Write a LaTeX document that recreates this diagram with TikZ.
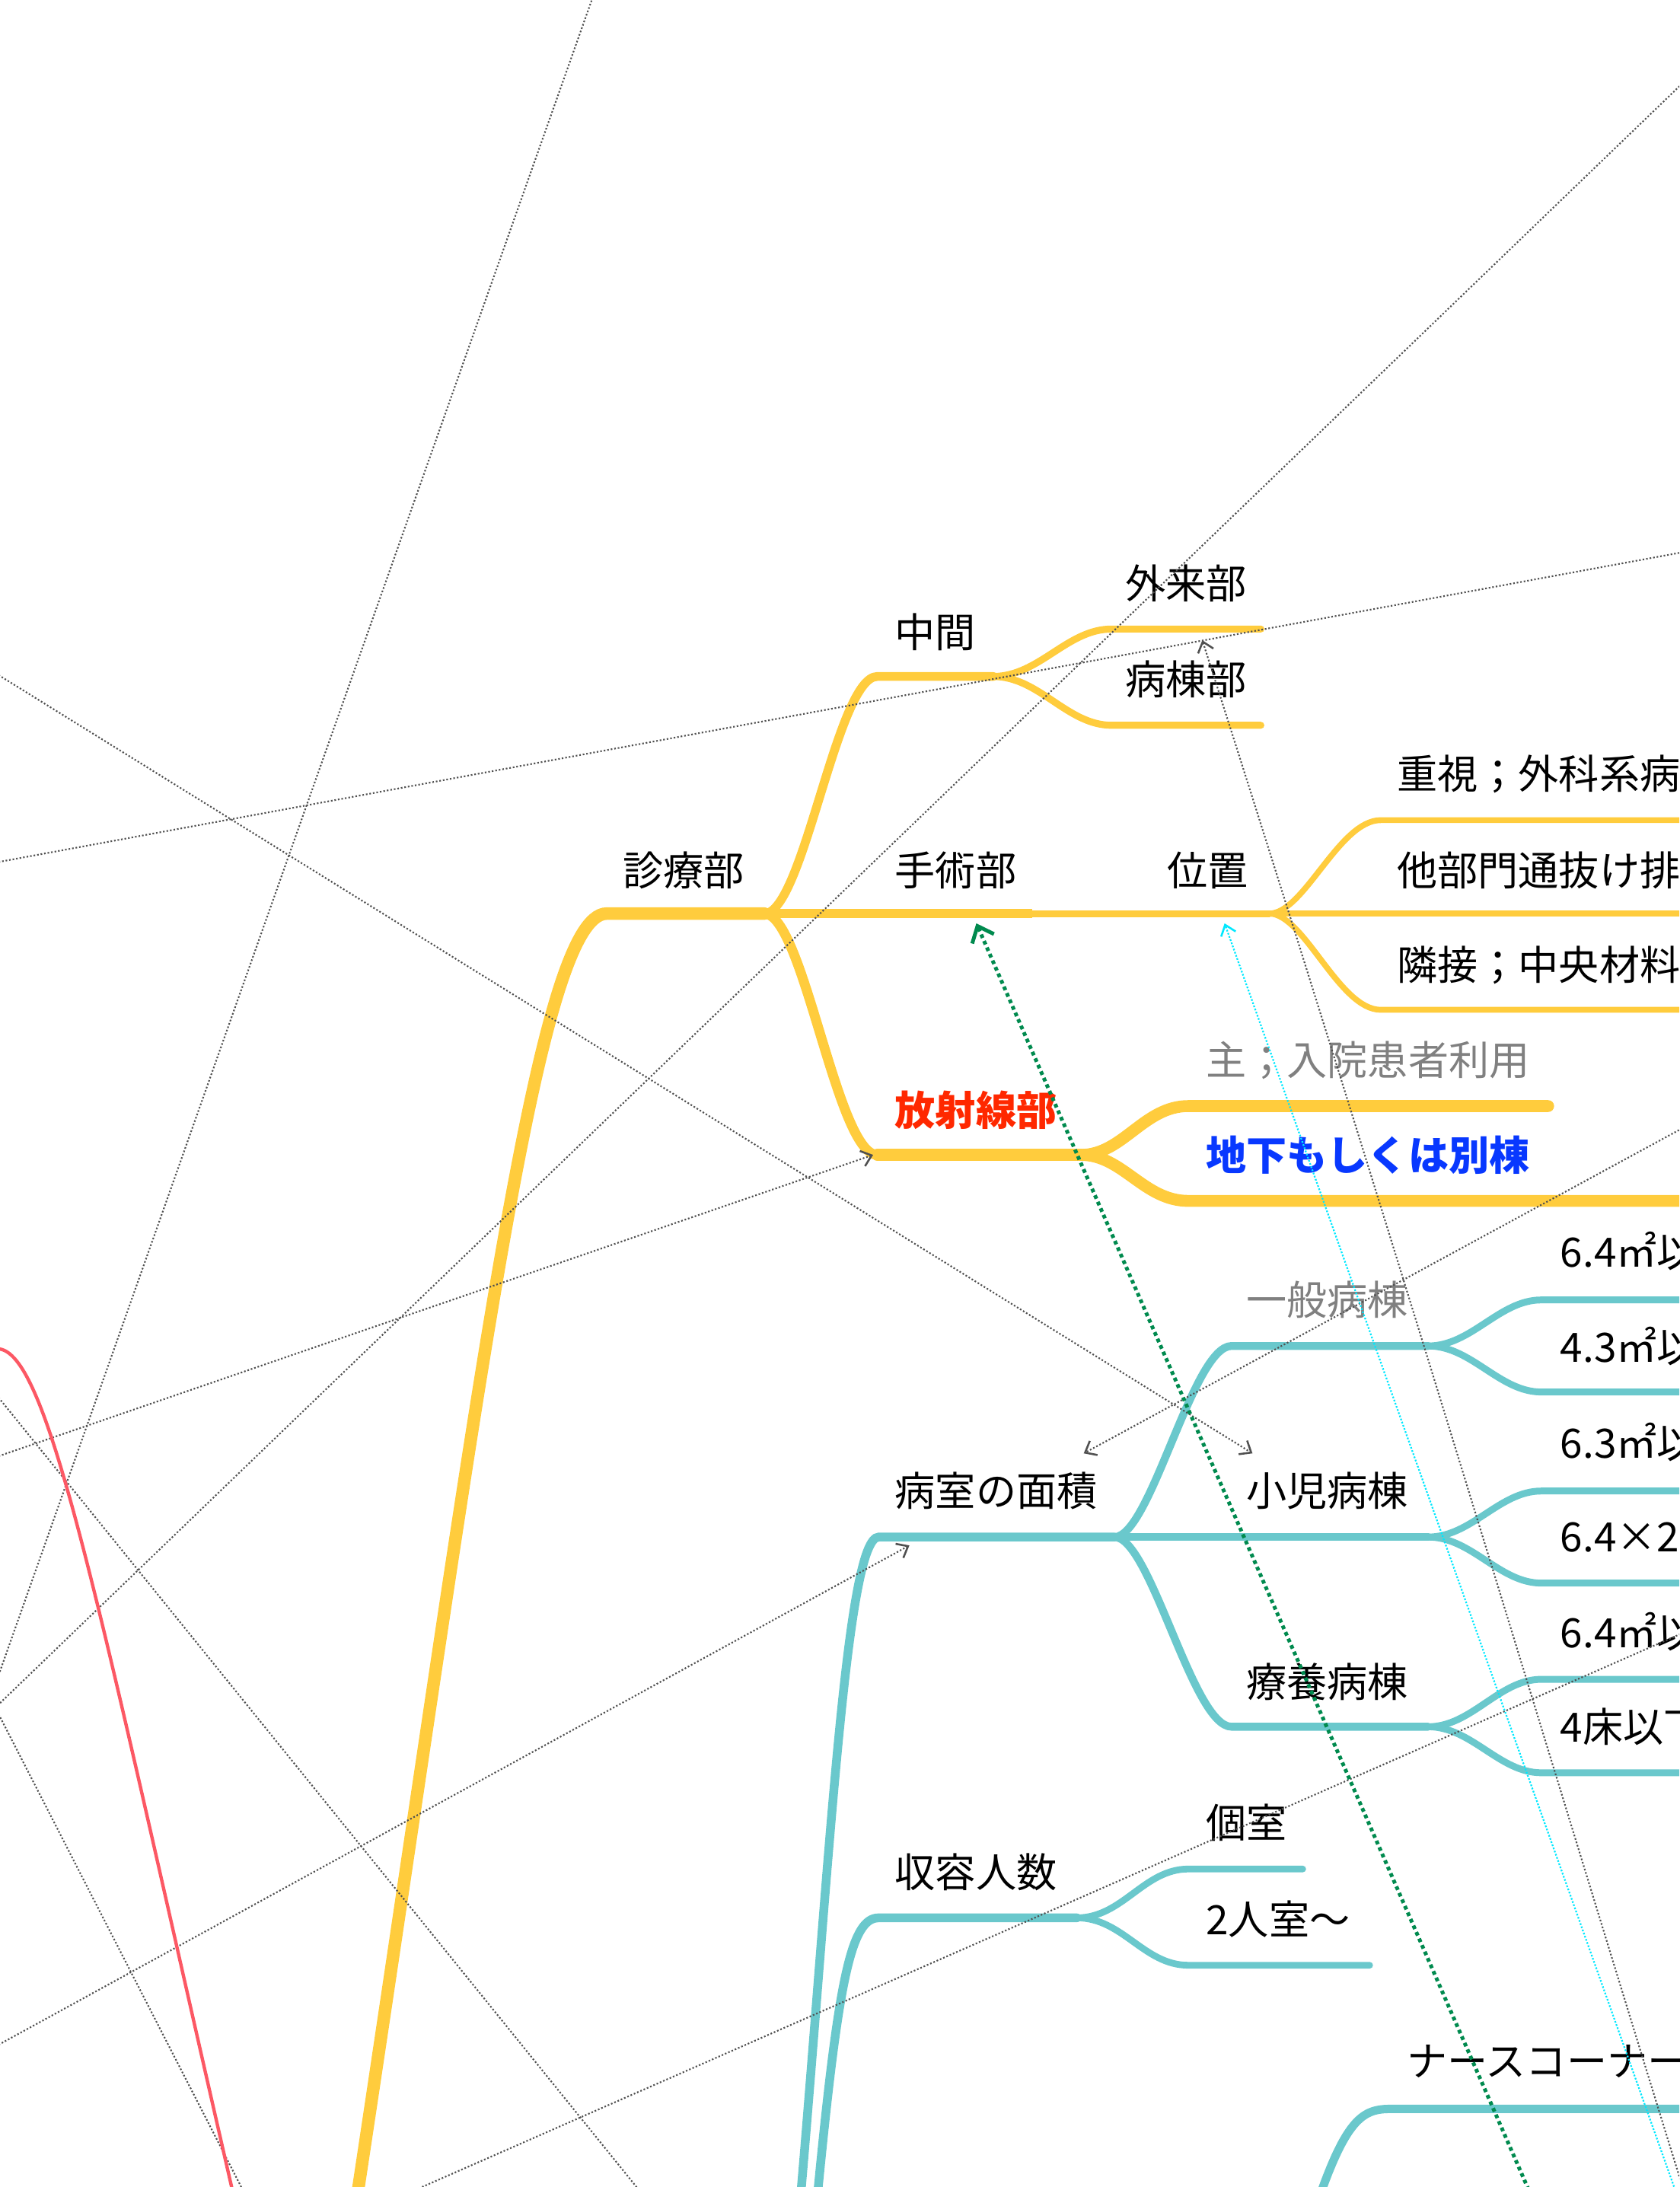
\documentclass[tikz,border=0pt]{standalone}
\usepackage{fontspec}
\setmainfont{Noto Sans CJK JP}
\usetikzlibrary{arrows.meta,calc}
\definecolor{yel}{RGB}{255,204,61}
\definecolor{tealc}{RGB}{106,200,204}
\definecolor{relgray}{RGB}{80,80,80}
\definecolor{relgreen}{RGB}{0,138,78}
\definecolor{relcyan}{RGB}{0,232,255}
\definecolor{redc}{RGB}{252,88,100}
\definecolor{lblred}{RGB}{255,40,0}
\definecolor{lblblue}{RGB}{8,56,255}
\definecolor{lblgray}{RGB}{128,128,128}
\begin{document}
\begin{tikzpicture}[x=1pt,y=-1pt,
  lbl/.style={anchor=west, inner sep=0pt, font=\fontsize{29}{31}\selectfont},
  ybr/.style={draw=yel, line cap=round, line width=#1},
  tbr/.style={draw=tealc, line cap=round, line width=#1},
  reldot/.style={draw=relgray, line width=1.15pt, dash pattern=on 1.15pt off 1.4pt},
  relarrow/.style={reldot, -{Straight Barb[length=7pt,width=11.5pt,line width=1.4pt]}},
  cyanrel/.style={draw=relcyan, line width=1.2pt, dash pattern=on 1.2pt off 1.2pt, -{Straight Barb[length=7pt,width=11pt,line width=1.4pt]}},
  greenrel/.style={draw=relgreen, line width=2.7pt, dash pattern=on 2.7pt off 2.4pt, -{Straight Barb[length=10pt,width=17pt]}},
  redrel/.style={draw=redc, line width=2.4pt}
]
\useasboundingbox (0,0) rectangle (1204,1568);
\clip (0,0) rectangle (1204,1568);

% ---------- yellow branch ----------
\coordinate (trunkS) at (256,1575);
\coordinate (dia) at (435,655);
\coordinate (diaE) at (548,655);
\coordinate (chuS) at (629,485);
\coordinate (chuE) at (712,485);
\coordinate (gaiS) at (797,451);
\coordinate (gaiE) at (904,451);
\coordinate (byoS) at (797,520);
\coordinate (byoE) at (904,520);
\coordinate (shuE) at (740,655);
\coordinate (ichiE) at (910,655);
\coordinate (juS) at (990,588);
\coordinate (juE) at (1220,588);
\coordinate (taE) at (1220,655);
\coordinate (rinS) at (990,724);
\coordinate (rinE) at (1220,724);
\coordinate (hoS) at (629,828);
\coordinate (hoE) at (775,828);
\coordinate (omoS) at (852,793);
\coordinate (omoE) at (1110,793);
\coordinate (chiS) at (852,861);
\coordinate (chiE) at (1220,861);

\draw[ybr=9] (trunkS) .. controls (343,1000) and (385,655) .. (dia) -- (diaE);
\draw[ybr=6.3] (diaE) .. controls (576,655) and (600,485) .. (chuS) -- (chuE);
\draw[ybr=5] (chuE) .. controls (745,485) and (765,451) .. (gaiS) -- (gaiE);
\draw[ybr=5] (chuE) .. controls (745,485) and (765,520) .. (byoS) -- (byoE);
\draw[ybr=6.4, line cap=butt] (diaE) -- (shuE);
\draw[ybr=5] (shuE) -- (ichiE);
\draw[ybr=4.2] (ichiE) .. controls (935,655) and (960,588) .. (juS) -- (juE);
\draw[ybr=4.2] (ichiE) -- (taE);
\draw[ybr=4.2] (ichiE) .. controls (935,655) and (960,724) .. (rinS) -- (rinE);
\draw[ybr=7] (diaE) .. controls (576,655) and (600,828) .. (hoS);
\draw[ybr=8.5] (hoS) -- (hoE);
\draw[ybr=8.5] (hoE) .. controls (805,828) and (820,793) .. (omoS) -- (omoE);
\draw[ybr=8.5] (hoE) .. controls (805,828) and (820,861) .. (chiS) -- (chiE);

% ---------- teal branches ----------
\coordinate (menS0) at (574,1575);
\coordinate (menS) at (630,1102);
\coordinate (menE) at (799,1102);
\coordinate (ippS) at (883,965);
\coordinate (ippE) at (1024,965);
\coordinate (shoE) at (1024,1102);
\coordinate (ryoS) at (883,1238);
\coordinate (ryoE) at (1024,1238);
\coordinate (a1S) at (1105,932);  \coordinate (a1E) at (1220,932);
\coordinate (a2S) at (1105,998);  \coordinate (a2E) at (1220,998);
\coordinate (b1S) at (1105,1069); \coordinate (b1E) at (1220,1069);
\coordinate (b2S) at (1105,1135); \coordinate (b2E) at (1220,1135);
\coordinate (c1S) at (1105,1204); \coordinate (c1E) at (1220,1204);
\coordinate (c2S) at (1105,1271); \coordinate (c2E) at (1220,1271);
\coordinate (shuuS0) at (586,1575);
\coordinate (shuuS) at (630,1375);
\coordinate (shuuE) at (772,1375);
\coordinate (koS) at (852,1340);
\coordinate (koE) at (934,1340);
\coordinate (niS) at (852,1409);
\coordinate (niE) at (982,1409);
\coordinate (naS0) at (946,1575);
\coordinate (naS) at (997,1512);
\coordinate (naE) at (1220,1512);

\draw[tbr=6.3] (menS0) .. controls (595,1330) and (607,1102) .. (menS) -- (menE);
\draw[tbr=5.6] (menE) .. controls (825,1102) and (855,965) .. (ippS) -- (ippE);
\draw[tbr=5.6] (menE) -- (shoE);
\draw[tbr=5.6] (menE) .. controls (825,1102) and (855,1238) .. (ryoS) -- (ryoE);
\draw[tbr=4.9] (ippE) .. controls (1055,965) and (1075,932) .. (a1S) -- (a1E);
\draw[tbr=4.9] (ippE) .. controls (1055,965) and (1075,998) .. (a2S) -- (a2E);
\draw[tbr=4.9] (shoE) .. controls (1055,1102) and (1075,1069) .. (b1S) -- (b1E);
\draw[tbr=4.9] (shoE) .. controls (1055,1102) and (1075,1135) .. (b2S) -- (b2E);
\draw[tbr=4.9] (ryoE) .. controls (1055,1238) and (1075,1204) .. (c1S) -- (c1E);
\draw[tbr=4.9] (ryoE) .. controls (1055,1238) and (1075,1271) .. (c2S) -- (c2E);
\draw[tbr=6.3] (shuuS0) .. controls (601,1420) and (610,1375) .. (shuuS) -- (shuuE);
\draw[tbr=4.8] (shuuE) .. controls (805,1375) and (820,1340) .. (koS) -- (koE);
\draw[tbr=4.8] (shuuE) .. controls (805,1375) and (820,1409) .. (niS) -- (niE);
\draw[tbr=6] (naS0) .. controls (966,1518) and (978,1512) .. (naS) -- (naE);

% ---------- labels ----------
\node[lbl] (tShinryo) at (446.5,624) {診療部};
\node[lbl] (tChukan) at (641.5,453) {中間};
\node[lbl] (tGairai) at (806.5,418) {外来部};
\node[lbl] (tByoto) at (806.5,487) {病棟部};
\node[lbl] (tShujutsu) at (641.5,624) {手術部};
\node[lbl] (tIchi) at (836.5,624) {位置};
\node[lbl] (tJushi) at (1001.5,555) {重視；外科系病棟};
\node[lbl] (tTabu) at (1001.5,624) {他部門通抜け排除};
\node[lbl] (tRinsetsu) at (1001.5,692) {隣接；中央材料部};
\node[lbl, text=lblred, font=\fontsize{29}{31}\selectfont\bfseries] (tHosha) at (641.5,796) {放射線部};
\node[lbl, text=lblgray] (tOmo) at (864.5,760) {主；入院患者利用};
\node[lbl, text=lblblue, font=\fontsize{29}{31}\selectfont\bfseries] (tChika) at (864.5,828) {地下もしくは別棟};
\node[lbl] (tMenseki) at (641.5,1069) {病室の面積};
\node[lbl, text=lblgray] (tIppan) at (893.5,932) {一般病棟};
\node[lbl] (tShoni) at (893.5,1069) {小児病棟};
\node[lbl] (tRyoyo) at (893.5,1206) {療養病棟};
\node[lbl] (tA1) at (1118.5,897) {6.4㎡以上};
\node[lbl] (tA2) at (1118.5,965) {4.3㎡以上};
\node[lbl] (tB1) at (1118.5,1034) {6.3㎡以上};
\node[lbl] (tB2) at (1118.5,1102) {6.4×2人};
\node[lbl] (tC1) at (1118.5,1170) {6.4㎡以上};
\node[lbl] (tC2) at (1118.5,1238) {4床以下};
\node[lbl] (tShuyo) at (641.5,1342) {収容人数};
\node[lbl] (tKoshitsu) at (864.5,1307) {個室};
\node[lbl] (tNinshitsu) at (864.5,1376) {2人室〜};
\node[lbl] (tNurse) at (1008.5,1478) {ナースコーナー};

% ---------- relationship lines ----------
\coordinate (r1a) at (425,-2);   \coordinate (r1b) at (-1,1201);
\coordinate (r2a) at (1206,60);  \coordinate (r2b) at (-1,1222);
\coordinate (r3a) at (-1,618);   \coordinate (r3b) at (1206,396);
\coordinate (r4a) at (-1,484);   \coordinate (r4b) at (898,1042);
\coordinate (r5a) at (1206,809); \coordinate (r5b) at (777,1042);
\coordinate (r6a) at (-1,1044);  \coordinate (r6b) at (626,828);
\coordinate (r7a) at (-1,1466);  \coordinate (r7b) at (652,1108);
\coordinate (r8a) at (-1,1002);  \coordinate (r8b) at (458,1570);
\coordinate (r9a) at (-1,1229);  \coordinate (r9b) at (174,1570);
\coordinate (r10a) at (298,1570); \coordinate (r10b) at (1206,1171);
\coordinate (r11a) at (1207,1570); \coordinate (r11b) at (862,459);
\coordinate (r12a) at (1201,1570); \coordinate (r12b) at (878,662);
\coordinate (r13a) at (1096,1570); \coordinate (r13b) at (700,662);
\coordinate (redA) at (-2,967);   \coordinate (redB) at (167,1572);

\draw[reldot] (r1a) -- (r1b);
\draw[reldot] (r2a) -- (r2b);
\draw[reldot] (r3a) -- (r3b);
\draw[relarrow] (r4a) -- (r4b);
\draw[relarrow] (r5a) -- (r5b);
\draw[relarrow] (r6a) -- (r6b);
\draw[relarrow] (r7a) -- (r7b);
\draw[reldot] (r8a) -- (r8b);
\draw[reldot] (r9a) -- (r9b);
\draw[reldot] (r10a) -- (r10b);
\draw[relarrow] (r11a) .. controls (1120,1290) and (1000,890) .. (r11b);
\draw[cyanrel] (r12a) -- (r12b);
\draw[greenrel] (r13a) -- (r13b);
\draw[redrel] (redA) .. controls (35,967) and (70,1150) .. (redB);
\end{tikzpicture}
\end{document}
